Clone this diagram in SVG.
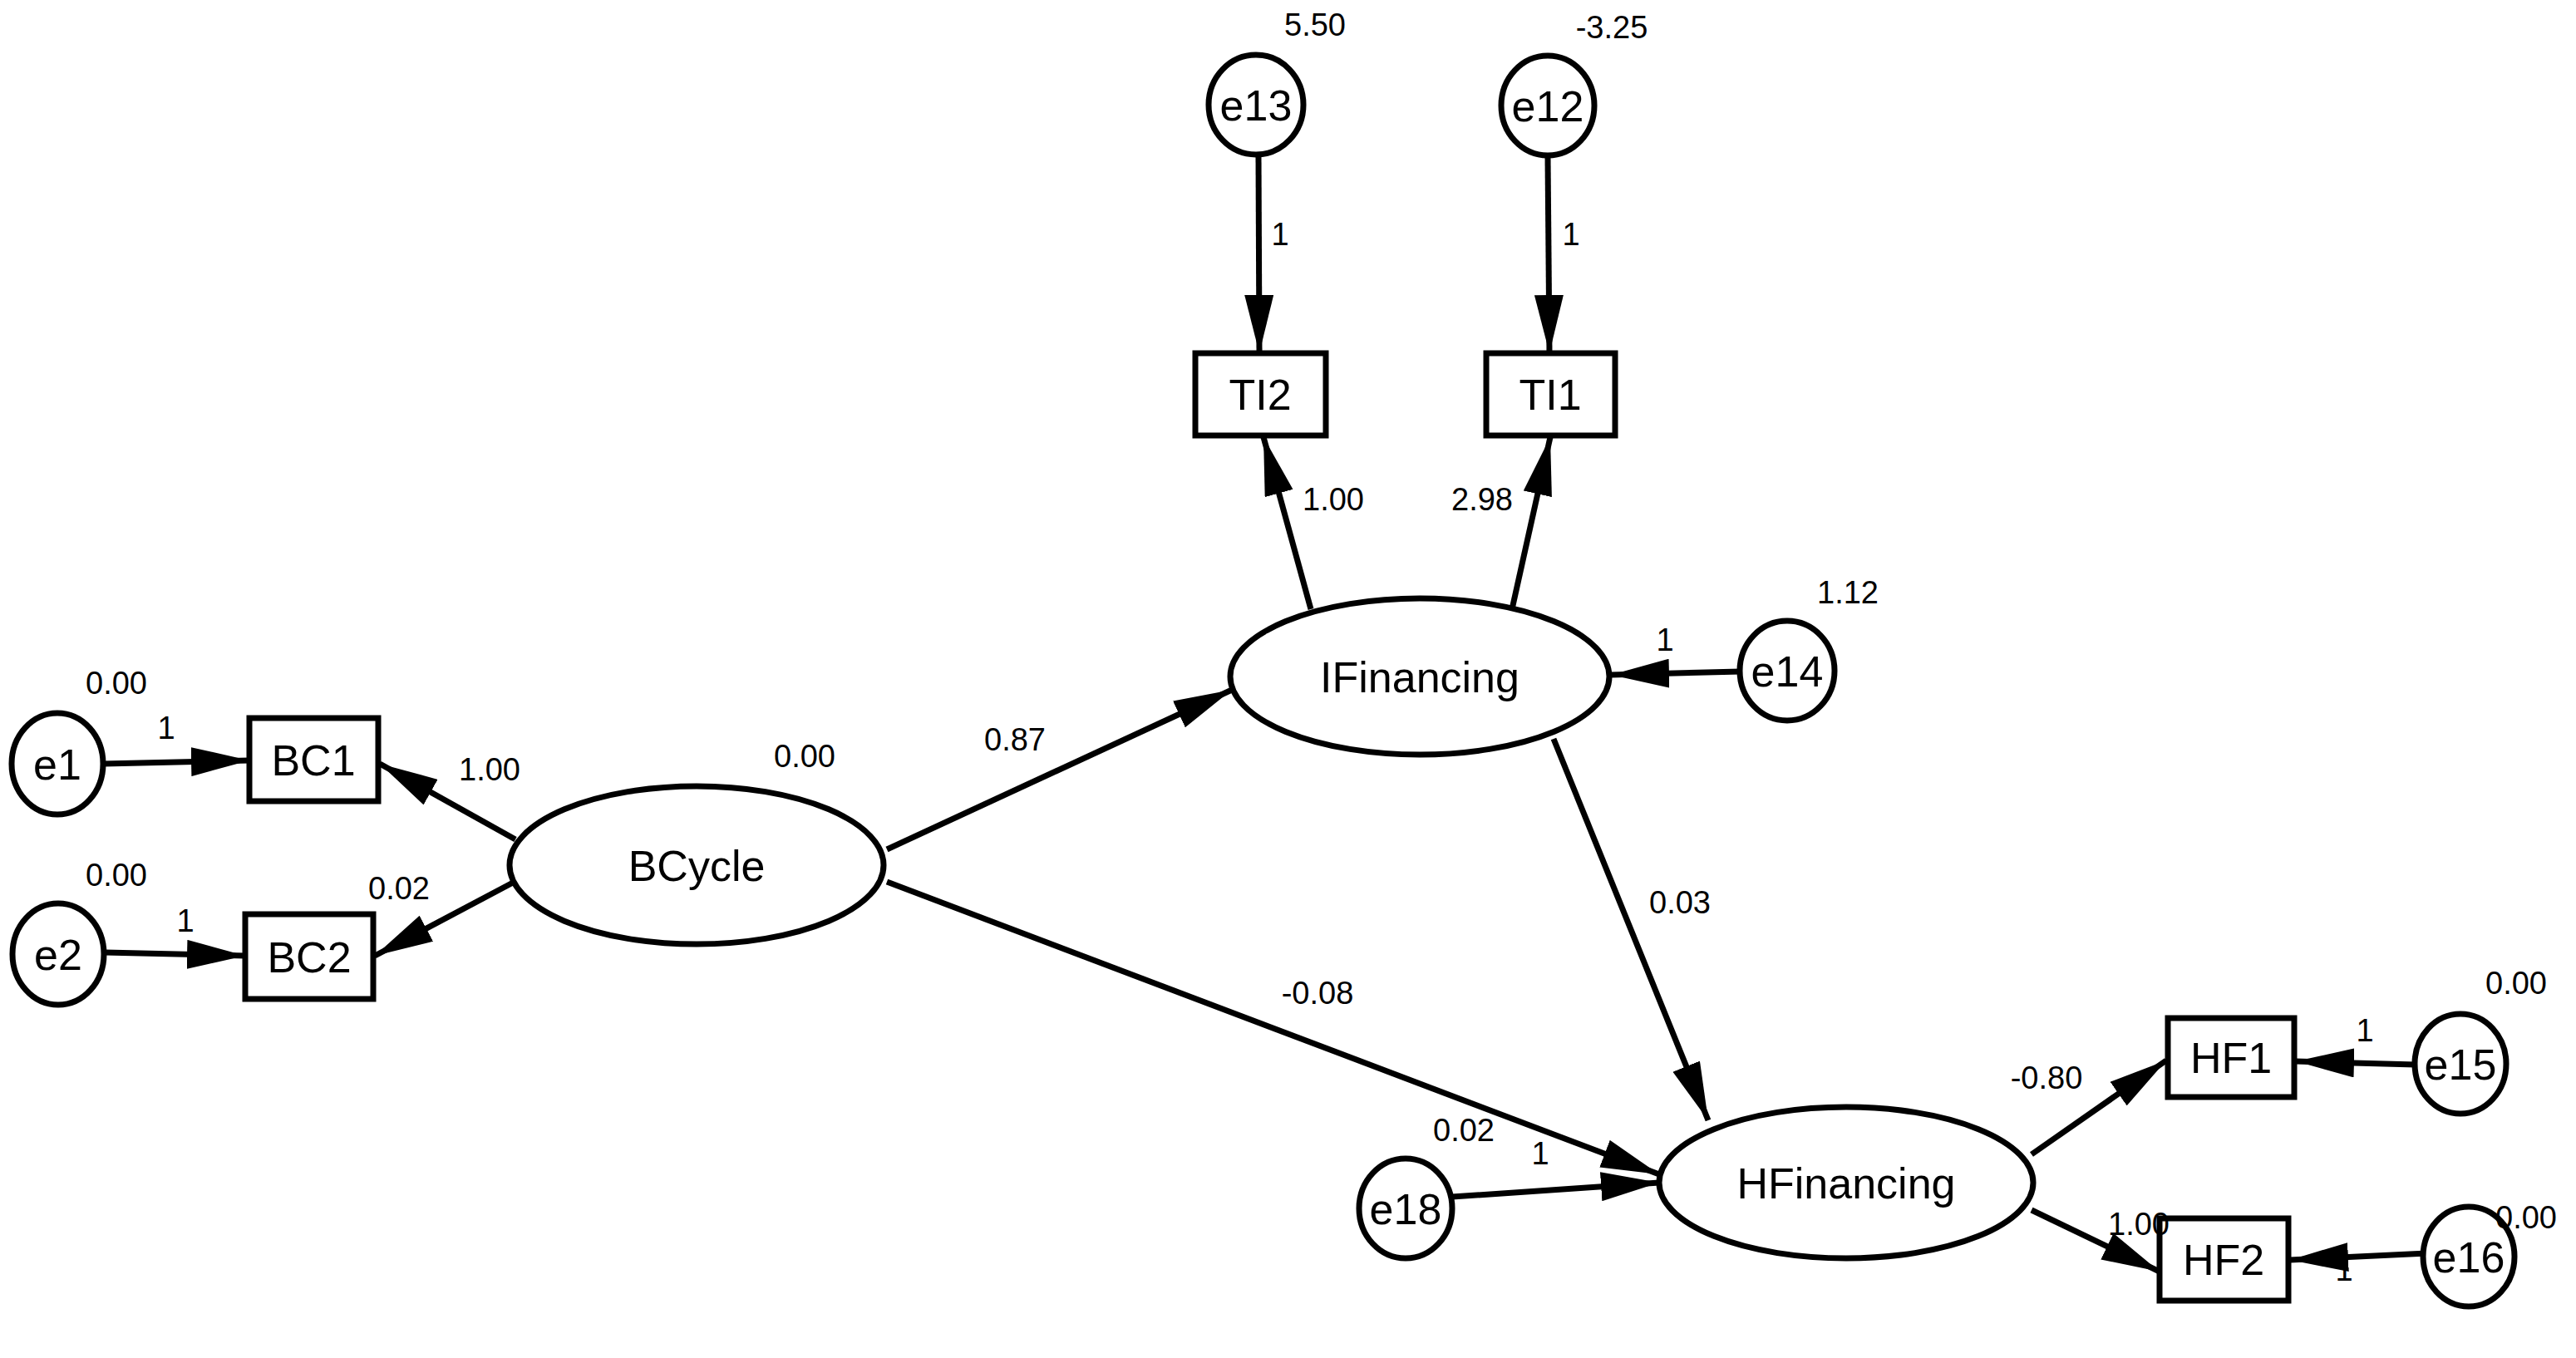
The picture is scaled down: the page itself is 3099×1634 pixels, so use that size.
<svg xmlns="http://www.w3.org/2000/svg" width="3099" height="1634" viewBox="0 0 3099 1634">
<style>
.n{fill:#fff;stroke:#000;stroke-width:7}
.t{font-family:"Liberation Sans",Arial,sans-serif;font-size:52px;text-anchor:middle;fill:#000}
.l{font-family:"Liberation Sans",Arial,sans-serif;font-size:38px;text-anchor:middle;fill:#000}
.c line{stroke:#000;stroke-width:7;marker-end:url(#a)}
</style>
<defs><marker id="a" viewBox="0 0 10 5" refX="10" refY="2.5" markerWidth="10" markerHeight="5" orient="auto"><path d="M0,0L10,2.5L0,5z" fill="#000"/></marker></defs>
<rect width="3099" height="1634" fill="#fff"/>
<g class="c">
<line x1="125" y1="919" x2="300" y2="915"/>
<line x1="126" y1="1146" x2="295" y2="1150"/>
<line x1="620" y1="1010" x2="457" y2="919"/>
<line x1="617" y1="1062" x2="451" y2="1150"/>
<line x1="1067" y1="1022" x2="1482" y2="830"/>
<line x1="1067" y1="1061" x2="1996" y2="1413"/>
<line x1="1869" y1="889" x2="2055" y2="1348"/>
<line x1="1747" y1="1440" x2="1996" y2="1423"/>
<line x1="2444" y1="1389" x2="2606" y2="1276"/>
<line x1="2444" y1="1456" x2="2598" y2="1530"/>
<line x1="2906" y1="1281" x2="2762" y2="1277"/>
<line x1="2920" y1="1508" x2="2755" y2="1516"/>
<line x1="1514" y1="188" x2="1515" y2="425"/>
<line x1="1862" y1="188" x2="1864" y2="425"/>
<line x1="1577" y1="733" x2="1520" y2="526"/>
<line x1="1819" y1="733" x2="1865" y2="526"/>
<line x1="2094" y1="808" x2="1938" y2="812"/>
</g>
<g id="e1"><ellipse class="n" cx="69" cy="919" rx="55" ry="61"/><text class="t" x="69" y="938">e1</text></g>
<g id="e2"><ellipse class="n" cx="70" cy="1148" rx="55" ry="61"/><text class="t" x="70" y="1167">e2</text></g>
<g id="BC1"><rect class="n" x="300" y="864" width="155" height="100"/><text class="t" x="377" y="933">BC1</text></g>
<g id="BC2"><rect class="n" x="295" y="1100" width="154" height="102"/><text class="t" x="372" y="1170">BC2</text></g>
<g id="BCycle"><ellipse class="n" cx="838" cy="1041" rx="225" ry="95"/><text class="t" x="838" y="1060">BCycle</text></g>
<g id="IFinancing"><ellipse class="n" cx="1708" cy="814" rx="228" ry="94"/><text class="t" x="1708" y="833">IFinancing</text></g>
<g id="HFinancing"><ellipse class="n" cx="2221" cy="1423" rx="225" ry="91"/><text class="t" x="2221" y="1442">HFinancing</text></g>
<g id="e13"><ellipse class="n" cx="1511" cy="126" rx="57" ry="60"/><text class="t" x="1511" y="145">e13</text></g>
<g id="e12"><ellipse class="n" cx="1862" cy="127" rx="56" ry="60"/><text class="t" x="1862" y="146">e12</text></g>
<g id="TI2"><rect class="n" x="1438" y="425" width="157" height="99"/><text class="t" x="1516" y="493">TI2</text></g>
<g id="TI1"><rect class="n" x="1788" y="425" width="155" height="99"/><text class="t" x="1865" y="493">TI1</text></g>
<g id="e14"><ellipse class="n" cx="2150" cy="807" rx="57" ry="60"/><text class="t" x="2150" y="826">e14</text></g>
<g id="e18"><ellipse class="n" cx="1691" cy="1454" rx="56" ry="60"/><text class="t" x="1691" y="1473">e18</text></g>
<g id="HF1"><rect class="n" x="2608" y="1225" width="152" height="95"/><text class="t" x="2684" y="1291">HF1</text></g>
<g id="HF2"><rect class="n" x="2598" y="1466" width="155" height="99"/><text class="t" x="2675" y="1534">HF2</text></g>
<g id="e15"><ellipse class="n" cx="2960" cy="1280" rx="55" ry="60"/><text class="t" x="2960" y="1299">e15</text></g>
<g id="e16"><ellipse class="n" cx="2970" cy="1512" rx="55" ry="60"/><text class="t" x="2970" y="1531">e16</text></g>
<g id="labels">
<text class="l" x="140" y="835">0.00</text>
<text class="l" x="200" y="889">1</text>
<text class="l" x="589" y="939">1.00</text>
<text class="l" x="968" y="923">0.00</text>
<text class="l" x="140" y="1066">0.00</text>
<text class="l" x="223" y="1121">1</text>
<text class="l" x="480" y="1082">0.02</text>
<text class="l" x="1582" y="43">5.50</text>
<text class="l" x="1939" y="46">-3.25</text>
<text class="l" x="1540" y="295">1</text>
<text class="l" x="1890" y="295">1</text>
<text class="l" x="1604" y="614">1.00</text>
<text class="l" x="1783" y="614">2.98</text>
<text class="l" x="2223" y="726">1.12</text>
<text class="l" x="2003" y="783">1</text>
<text class="l" x="1221" y="903">0.87</text>
<text class="l" x="1585" y="1208">-0.08</text>
<text class="l" x="2021" y="1099">0.03</text>
<text class="l" x="1761" y="1373">0.02</text>
<text class="l" x="1853" y="1401">1</text>
<text class="l" x="2462" y="1310">-0.80</text>
<text class="l" x="2573" y="1486">1.00</text>
<text class="l" x="3027" y="1196">0.00</text>
<text class="l" x="2845" y="1253">1</text>
<text class="l" x="3039" y="1478">0.00</text>
<text class="l" x="2820" y="1541">1</text>
</g>
</svg>
